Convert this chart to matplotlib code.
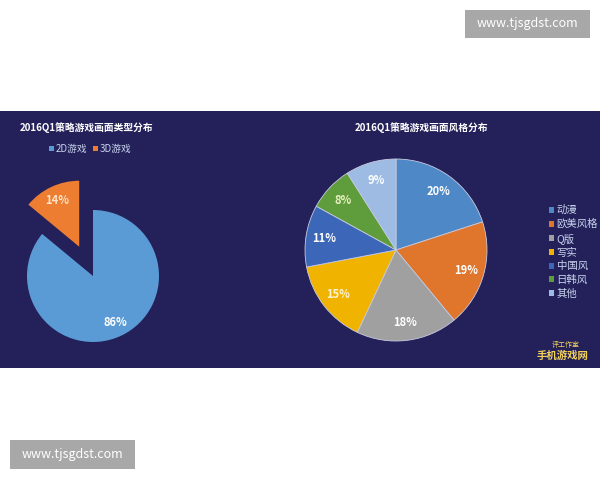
import matplotlib
matplotlib.use("Agg")
import matplotlib.pyplot as plt
from matplotlib.patches import Rectangle

plt.rcParams['font.family'] = ['Noto Sans CJK SC', 'DejaVu Sans']

# data
type_labels = ['2D游戏', '3D游戏']
type_values = [86, 14]
type_colors = ['#5b9bd5', '#ed7d31']

style_labels = ['动漫', '欧美风格', 'Q版', '写实', '中国风', '日韩风', '其他']
style_values = [20, 19, 18, 15, 11, 8, 9]
style_colors = ['#4f88c6', '#e0752c', '#a0a0a0', '#f0b400', '#3c67b8', '#5e9c3c', '#9dbbe3']

W, H = 600, 480
navy = '#23205a'

fig = plt.figure(figsize=(6, 4.8), dpi=100)
fig.patch.set_facecolor('white')

# dark band (behind the axes)
fig.patches.append(Rectangle((0, 1 - 368 / H), 1, (368 - 111) / H,
                             transform=fig.transFigure, facecolor=navy,
                             edgecolor='none', zorder=-5))


def px_axes(cx, cy, r):
    # square axes centred on (cx, cy) in pixels (from top-left), data radius 1 -> r px
    ax = fig.add_axes([(cx - r) / W, 1 - (cy + r) / H, 2 * r / W, 2 * r / H])
    ax.set_facecolor('none')
    return ax


# left pie
ax1 = px_axes(93, 276, 66)
w1, _, t1 = ax1.pie(type_values, colors=type_colors, startangle=90, counterclock=False,
                    explode=[0, 0.49], autopct='%d%%', pctdistance=0.78,
                    wedgeprops=dict(linewidth=0), textprops=dict(color='white', fontsize=8,
                                                                 fontweight='bold'))
for w in w1:
    w.set_clip_on(False)
ax1.set_xlim(-1, 1)
ax1.set_ylim(-1, 1)
ax1.axis('off')
t1[1].set_color('#fbe3c8')

fig.text(20 / W, 1 - 128 / H, '2016Q1策略游戏画面类型分布', color='white', fontsize=7,
         fontweight='bold', va='center', ha='left')
fig.legend(w1, type_labels, loc='center left', bbox_to_anchor=(44 / W, 1 - 149 / H),
           ncol=2, frameon=False, labelcolor='#c9d4ee', fontsize=7,
           handlelength=0.5, handleheight=0.5, handletextpad=0.2, columnspacing=0.6,
           borderpad=0)

# right pie
ax2 = px_axes(396, 250, 91)
w2, _, t2 = ax2.pie(style_values, colors=style_colors, startangle=90, counterclock=False,
                    autopct='%d%%', pctdistance=0.8,
                    wedgeprops=dict(linewidth=0.6, edgecolor='#c8cbe0'),
                    textprops=dict(color='white', fontsize=8, fontweight='bold'))
ax2.set_xlim(-1, 1)
ax2.set_ylim(-1, 1)
ax2.axis('off')
t2[5].set_color('#e8f0c0')
t2[3].set_color('#fff3d0')

fig.text(422 / W, 1 - 128 / H, '2016Q1策略游戏画面风格分布', color='white', fontsize=7,
         fontweight='bold', va='center', ha='center')
fig.legend([Rectangle((0, 0), 1, 1, facecolor=c) for c in style_colors], style_labels,
           loc='upper left', bbox_to_anchor=(544 / W, 1 - 200 / H),
           ncol=1, frameon=False, labelcolor='#c9d4ee', fontsize=7.5,
           handlelength=0.5, handleheight=0.5, handletextpad=0.2, labelspacing=0.35,
           borderpad=0)

# corner logo
fig.text(566 / W, 1 - 345 / H, '评工作室', color='#f2d25a', fontsize=5, style='italic',
         ha='center', va='center')
fig.text(563 / W, 1 - 356 / H, '手机游戏网', color='#f2d25a', fontsize=7.5,
         fontweight='bold', style='italic', ha='center', va='center')

# site watermarks
for (x0, y0, x1, y1) in [(465, 10, 590, 38), (10, 440, 135, 469)]:
    fig.patches.append(Rectangle((x0 / W, 1 - y1 / H), (x1 - x0) / W, (y1 - y0) / H,
                                 transform=fig.transFigure, facecolor='#a8a8a8',
                                 edgecolor='none', zorder=5))
    fig.text((x0 + x1) / 2 / W, 1 - (y0 + y1) / 2 / H, 'www.tjsgdst.com', color='white',
             fontsize=9, ha='center', va='center', zorder=6)

fig.savefig('out.png', dpi=100, facecolor='white')
